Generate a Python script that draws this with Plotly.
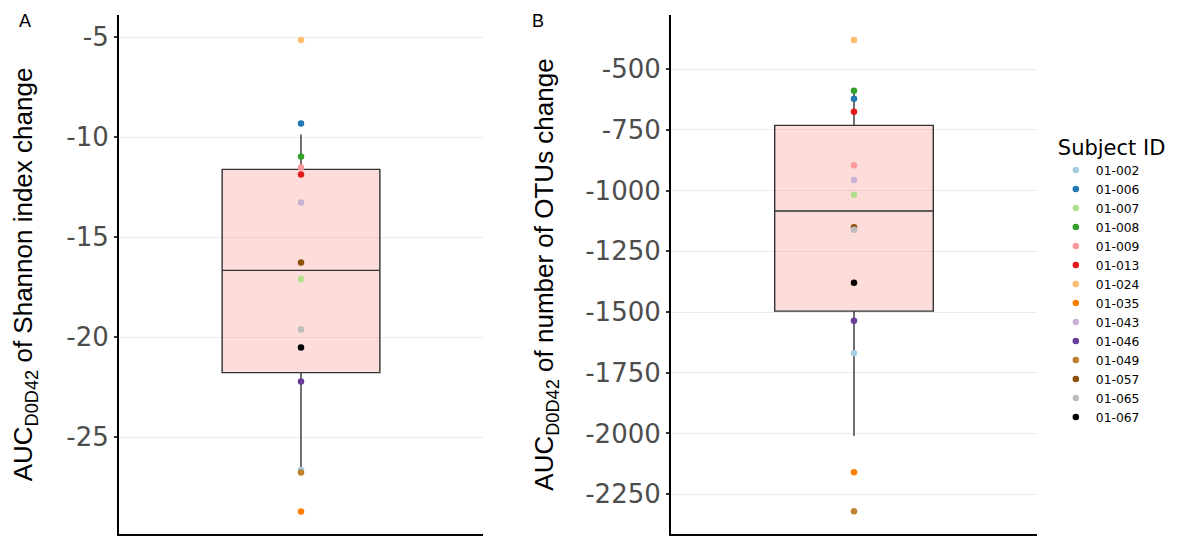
import plotly.graph_objects as go

# ---------------- data ----------------
subjects = ["01-002", "01-006", "01-007", "01-008", "01-009", "01-013", "01-024",
            "01-035", "01-043", "01-046", "01-049", "01-057", "01-065", "01-067"]
colors = ["#A6CEE3", "#1F78B4", "#B2DF8A", "#33A02C", "#FB9A99", "#E31A1C", "#FDBF6F",
          "#FF7F00", "#CAB2D6", "#6A3D9A", "#BF812D", "#8C510A", "#BDBDBD", "#000000"]

shannon_auc = [-26.65, -9.33, -17.10, -10.98, -11.53, -11.87, -5.15,
               -28.72, -13.28, -22.23, -26.77, -16.27, -19.62, -20.53]
otus_auc = [-1670, -621, -1017, -588, -895, -675, -379,
            -2160, -956, -1536, -2321, -1151, -1161, -1379]

# box statistics: q1, median, q3, lower whisker, upper whisker
shannon_q1, shannon_med, shannon_q3 = -21.78, -16.67, -11.62
shannon_lo, shannon_hi = -26.77, -9.87
otus_q1, otus_med, otus_q3 = -1496, -1084, -731
otus_lo, otus_hi = -2011, -588

shannon_ticks = [-25, -20, -15, -10, -5]
otus_ticks = [-2250, -2000, -1750, -1500, -1250, -1000, -750, -500]

group_x = [1]

# ---------------- figure ----------------
fig = go.Figure()

box_style = dict(
    fillcolor="rgba(248,118,109,0.25)",
    line=dict(color="#333333", width=1.4),
    whiskerwidth=0,
    boxpoints=False,
    width=0.52,
    showlegend=False,
    hoverinfo="skip",
)

fig.add_trace(go.Box(x=group_x, q1=[shannon_q1], median=[shannon_med], q3=[shannon_q3],
                     lowerfence=[shannon_lo], upperfence=[shannon_hi],
                     xaxis="x", yaxis="y", **box_style))
fig.add_trace(go.Box(x=group_x, q1=[otus_q1], median=[otus_med], q3=[otus_q3],
                     lowerfence=[otus_lo], upperfence=[otus_hi],
                     xaxis="x2", yaxis="y2", **box_style))

for s, c, v1, v2 in zip(subjects, colors, shannon_auc, otus_auc):
    fig.add_trace(go.Scatter(x=group_x, y=[v1], mode="markers", name=s, legendgroup=s,
                             marker=dict(color=c, size=6.5), xaxis="x", yaxis="y",
                             showlegend=True))
    fig.add_trace(go.Scatter(x=group_x, y=[v2], mode="markers", name=s, legendgroup=s,
                             marker=dict(color=c, size=6.5), xaxis="x2", yaxis="y2",
                             showlegend=False))

tick_font = dict(family="DejaVu Sans", size=26, color="#4D4D4D")
title_font = dict(family="Liberation Sans, Arial", size=26, color="#000000")

common_x = dict(range=[0.4, 1.6], showline=True, linecolor="#000000", linewidth=2,
                showticklabels=False, ticks="", showgrid=False, zeroline=False)
common_y = dict(showgrid=True, gridcolor="#EBEBEB", gridwidth=1.2, zeroline=False,
                showline=True, linecolor="#000000", linewidth=2,
                ticks="outside", ticklen=3, tickwidth=2, tickcolor="#333333",
                tickfont=tick_font)

fig.update_layout(
    width=1188, height=529,
    margin=dict(l=111, r=159, t=7, b=3),
    plot_bgcolor="white", paper_bgcolor="white",
    xaxis=dict(domain=[0, 0.3965], anchor="y", **common_x),
    xaxis2=dict(domain=[0.6013, 1], anchor="y2", **common_x),
    yaxis=dict(range=[-29.85, -3.9], tickvals=shannon_ticks,
               ticktext=[str(t) for t in shannon_ticks], anchor="x",
               title=dict(text="AUC<sub>D0D42</sub> of Shannon index change",
                          font=title_font, standoff=26),
               **common_y),
    yaxis2=dict(range=[-2414.3, -276.3], tickvals=otus_ticks,
                ticktext=[str(t) for t in otus_ticks], anchor="x2",
                title=dict(text="AUC<sub>D0D42</sub> of number of OTUs change",
                           font=title_font, standoff=24),
                **common_y),
    legend=dict(
        title=dict(text="Subject ID", font=dict(family="DejaVu Sans", size=21, color="#000000")),
        font=dict(family="DejaVu Sans", size=12.3, color="#000000"),
        xref="container", yref="container",
        x=0.882, y=0.773, xanchor="left", yanchor="top",
        tracegroupgap=0, bgcolor="rgba(0,0,0,0)", maxheight=420,
    ),
    annotations=[
        dict(text="A", xref="paper", yref="paper", x=-0.111, y=1.012,
             xanchor="left", yanchor="top", showarrow=False,
             font=dict(family="Liberation Sans, Arial", size=18, color="#000000")),
        dict(text="B", xref="paper", yref="paper", x=0.4477, y=1.012,
             xanchor="left", yanchor="top", showarrow=False,
             font=dict(family="Liberation Sans, Arial", size=18, color="#000000")),
    ],
)

fig.write_html("out.html")
